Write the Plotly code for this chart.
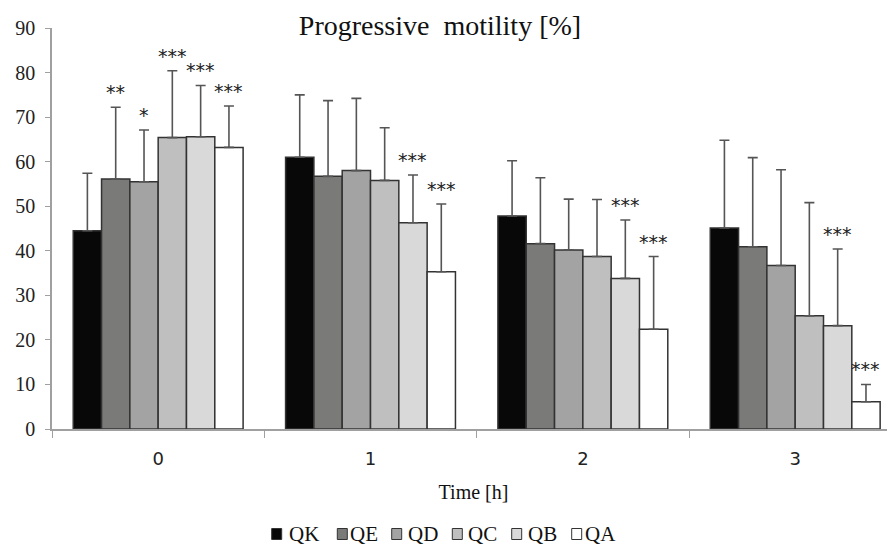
import plotly.graph_objects as go

times = ["0", "1", "2", "3"]
series = ["QK", "QE", "QD", "QC", "QB", "QA"]
means = {
    "QK": [44.5, 61.0, 47.8, 45.1],
    "QE": [56.1, 56.7, 41.6, 40.9],
    "QD": [55.5, 58.0, 40.2, 36.7],
    "QC": [65.4, 55.8, 38.7, 25.4],
    "QB": [65.6, 46.3, 33.8, 23.2],
    "QA": [63.2, 35.3, 22.4, 6.1],
}
sd = {
    "QK": [12.9, 14.0, 12.4, 19.7],
    "QE": [16.1, 17.0, 14.8, 20.0],
    "QD": [11.6, 16.2, 11.4, 21.5],
    "QC": [15.0, 11.8, 12.8, 25.4],
    "QB": [11.5, 10.7, 13.1, 17.2],
    "QA": [9.3, 15.2, 16.3, 3.9],
}
stars = {
    "QK": ["", "", "", ""],
    "QE": ["**", "", "", ""],
    "QD": ["*", "", "", ""],
    "QC": ["***", "", "", ""],
    "QB": ["***", "***", "***", "***"],
    "QA": ["***", "***", "***", "***"],
}
colors = ["#080808", "#7a7a78", "#a3a3a3", "#bfbfbf", "#d9d9d9", "#ffffff"]

serif = "Liberation Serif, Times New Roman, serif"

# figure geometry (page has an 8px body margin)
W, H = 887, 539
ML, MR, MT, MB = 44, 0, 20, 118
PW, PH = W - ML - MR, H - MT - MB
OFF = 8


def paper_x(px):
    return (px - OFF - ML) / PW


def paper_y(py):
    return (H - MB - (py - OFF)) / PH


fig = go.Figure()
for s, c in zip(series, colors):
    fig.add_trace(go.Bar(
        name=s, x=times, y=means[s],
        marker=dict(color=c, line=dict(color="#333333", width=1.5)),
        error_y=dict(type="data", array=sd[s], arrayminus=[0] * len(times),
                     symmetric=False, color="#555555", thickness=1.6, width=5),
        showlegend=False,
    ))

bargap = 0.2
n = len(series)
bw = (1 - bargap) / n
for i, s in enumerate(series):
    for j, t in enumerate(times):
        if stars[s][j]:
            fig.add_annotation(
                x=j - (1 - bargap) / 2 + (i + 0.5) * bw, y=means[s][j] + sd[s][j],
                xref="x", yref="y", text=stars[s][j], showarrow=False,
                yanchor="bottom", yshift=2,
                font=dict(family="DejaVu Sans", size=19, color="#222222"),
            )

# legend drawn as boxes + labels below the axis title
legend_box_x = [271.7, 337.3, 391.7, 452.3, 511.7, 571.7]
legend_text_x = [286.5, 347.5, 406.0, 466.0, 526.0, 582.5]
for s, c, bx, tx in zip(series, colors, legend_box_x, legend_text_x):
    fig.add_shape(type="rect", xref="paper", yref="paper",
                  x0=paper_x(bx), x1=paper_x(bx + 10),
                  y0=paper_y(539.5), y1=paper_y(528.5),
                  fillcolor=c, line=dict(color="#333333", width=1))
    fig.add_annotation(x=paper_x(tx), y=paper_y(534), xref="paper", yref="paper",
                       text=s, showarrow=False, xanchor="left", yanchor="middle",
                       font=dict(family=serif, size=21, color="#111111"))

fig.update_layout(
    width=W, height=H,
    margin=dict(l=ML, r=MR, t=MT, b=MB, autoexpand=False),
    paper_bgcolor="white", plot_bgcolor="white",
    barmode="group", bargap=bargap, bargroupgap=0,
    title=dict(text="Progressive  motility [%]", x=0.487, xanchor="center",
               y=0.968, yanchor="middle",
               font=dict(family=serif, size=28, color="#111111")),
    xaxis=dict(
        type="category", range=[-0.5, 3.47], automargin=False,
        showline=True, linecolor="#a0a0a0", linewidth=1.5,
        ticks="outside", tickson="boundaries", ticklen=7, tickcolor="#a0a0a0",
        ticklabelstandoff=13,
        tickfont=dict(family="DejaVu Sans", size=18, color="#222222"),
        title=dict(text="Time [h]", font=dict(family=serif, size=20, color="#111111"), standoff=17),
        showgrid=False,
    ),
    yaxis=dict(
        range=[0, 90], dtick=10, automargin=False,
        showline=True, linecolor="#a0a0a0", linewidth=1.5,
        ticks="outside", ticklen=5, tickcolor="#a0a0a0",
        ticklabelstandoff=6,
        tickfont=dict(family=serif, size=20, color="#222222"),
        showgrid=False, zeroline=False,
    ),
    showlegend=False,
)

fig.write_html("out.html")
